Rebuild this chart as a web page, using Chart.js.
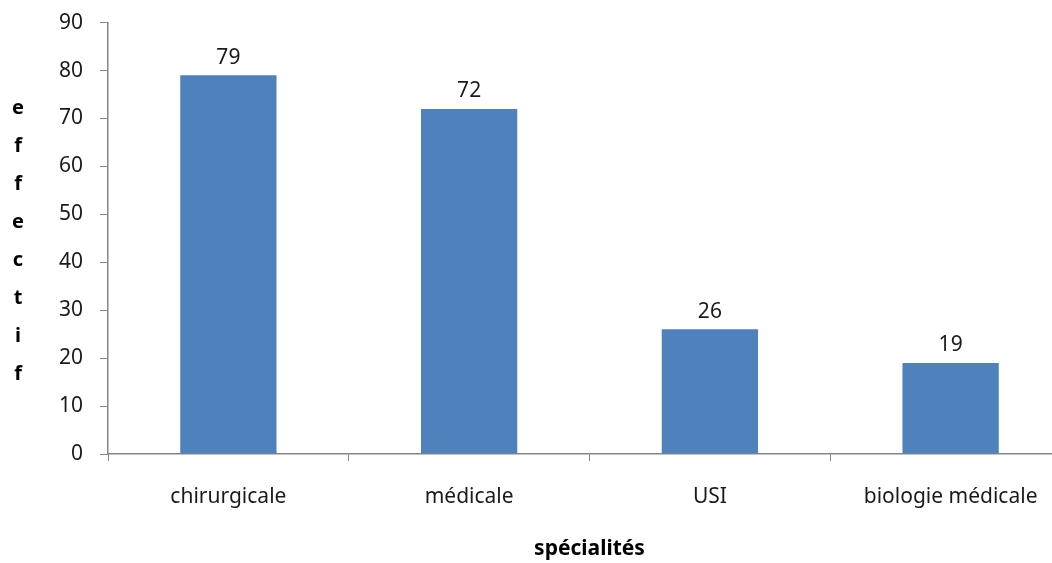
<!DOCTYPE html>
<html lang="fr">
<head>
<meta charset="utf-8">
<title>Effectif par spécialité</title>
<script src="https://cdn.jsdelivr.net/npm/chart.js@4/dist/chart.umd.min.js"></script>
<style>
  html, body { margin: 0; padding: 0; background: #fff; overflow: hidden; }
  #wrap { position: relative; top: -7px; width: 1072px; height: 570px; }
</style>
</head>
<body>
<div id="wrap"><canvas id="graphique"></canvas></div>
<script>
// Données
const specialites = ['chirurgicale', 'médicale', 'USI', 'biologie médicale'];
const effectifs = [79, 72, 26, 19];
const titreY = 'effectif';
const titreX = 'spécialités';

const police = '"Noto Sans", "Open Sans", sans-serif';
const gris = '#868686';

// Valeurs au-dessus des barres
const etiquettesBarres = {
  id: 'etiquettesBarres',
  afterDatasetsDraw(chart) {
    const ctx = chart.ctx;
    const meta = chart.getDatasetMeta(0);
    ctx.save();
    ctx.font = '21px ' + police;
    ctx.fillStyle = '#1a1a1a';
    ctx.textAlign = 'center';
    ctx.textBaseline = 'bottom';
    meta.data.forEach((barre, i) => {
      ctx.fillText(String(effectifs[i]), barre.x, barre.y - 7);
    });
    ctx.restore();
  }
};

// Titre vertical, une lettre par ligne
const titreVertical = {
  id: 'titreVertical',
  afterDraw(chart) {
    const ctx = chart.ctx;
    ctx.save();
    ctx.font = 'bold 20px ' + police;
    ctx.fillStyle = '#000';
    ctx.textAlign = 'center';
    ctx.textBaseline = 'middle';
    titreY.split('').forEach((lettre, i) => {
      ctx.fillText(lettre, 18, 115 + i * 38);
    });
    ctx.restore();
  }
};

new Chart(document.getElementById('graphique'), {
  type: 'bar',
  data: {
    labels: specialites,
    datasets: [{
      data: effectifs,
      backgroundColor: '#4F81BD',
      barPercentage: 0.4,
      categoryPercentage: 1
    }]
  },
  options: {
    responsive: true,
    maintainAspectRatio: false,
    animation: false,
    layout: { padding: { top: 6, right: 1, left: 0, bottom: 0 } },
    plugins: {
      legend: { display: false },
      tooltip: { enabled: false }
    },
    scales: {
      x: {
        grid: {
          offset: true,
          drawOnChartArea: false,
          drawTicks: true,
          tickLength: 7,
          color: gris
        },
        border: { color: gris, width: 1.5 },
        ticks: {
          color: '#1a1a1a',
          font: { family: police, size: 21 },
          padding: 23,
          maxRotation: 0,
          autoSkip: false
        },
        title: {
          display: true,
          text: titreX,
          color: '#000',
          font: { family: police, size: 21, weight: 'bold' },
          padding: { top: 0, bottom: 1 }
        },
        afterFit(scale) { scale.height = 109; }
      },
      y: {
        min: 0,
        max: 90,
        grid: {
          drawOnChartArea: false,
          drawTicks: true,
          tickLength: 8,
          color: gris
        },
        border: { color: gris, width: 1.5 },
        ticks: {
          stepSize: 10,
          color: '#1a1a1a',
          font: { family: police, size: 21 },
          padding: 17
        },
        afterFit(scale) { scale.width = 108; }
      }
    }
  },
  plugins: [etiquettesBarres, titreVertical]
});
</script>
</body>
</html>
